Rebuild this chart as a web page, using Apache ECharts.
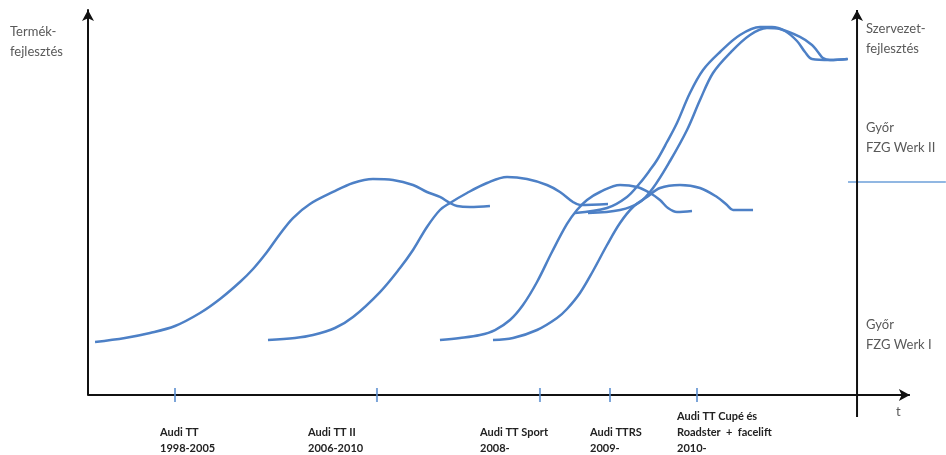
<!DOCTYPE html>
<html>
<head>
<meta charset="utf-8">
<script src="https://cdn.jsdelivr.net/npm/echarts@6/dist/echarts.min.js"></script>
<style>
html,body{margin:0;padding:0;background:#fff;}
#chart{width:946px;height:455px;}
</style>
</head>
<body>
<div id="chart"></div>
<script>
// Abstract units: x = time (0..~100), y = development level (0..100)
var curveAudiTT = [[0.86,13.77],[4.53,14.81],[7.59,16.10],[10.65,17.92],[13.71,21.30],[16.16,24.94],[18.60,29.35],[20.20,32.73],[21.91,37.14],[23.50,41.82],[25.09,45.97],[27.17,49.61],[29.99,52.73],[32.44,55.06],[34.88,56.10],[37.33,55.84],[39.78,54.55],[41.49,52.73],[43.08,51.43],[44.31,49.87],[45.17,49.09],[46.76,48.83],[49.20,49.09]];
var curveAudiTT2 = [[22.03,14.29],[25.34,14.81],[27.54,15.58],[30.23,17.40],[32.44,20.26],[35.74,26.75],[38.19,32.99],[39.78,37.66],[41.49,43.64],[43.08,48.05],[44.31,49.87],[46.39,52.47],[48.84,55.06],[51.29,56.62],[53.73,56.10],[56.18,54.55],[57.77,52.73],[59.36,50.13],[60.22,49.35],[63.65,49.61]];
var curveSport = [[43.08,14.29],[45.53,14.81],[47.98,15.58],[49.82,16.88],[51.65,19.48],[53.24,23.38],[54.96,29.35],[56.79,37.14],[58.63,44.42],[59.85,48.05],[61.08,50.65],[62.67,52.73],[65.12,54.55],[67.20,54.03],[68.79,52.47],[70.01,50.65],[70.99,48.57],[72.09,47.53],[73.93,47.79]];
var curveTTRS = [[49.57,14.29],[52.02,14.81],[54.96,16.88],[57.41,20.00],[58.63,22.34],[60.22,26.49],[61.81,32.21],[63.53,38.96],[65.12,44.68],[66.71,48.83],[68.42,51.43],[70.01,53.77],[72.46,54.55],[74.91,53.77],[76.99,51.43],[78.21,49.35],[78.95,48.05],[81.40,48.05]];
var curveCupeA = [[59.61,47.27],[63.53,48.57],[65.97,51.43],[67.56,55.06],[68.79,58.44],[69.65,61.04],[70.87,65.71],[72.09,70.65],[73.68,78.44],[75.28,84.42],[77.36,89.09],[79.80,93.51],[82.26,95.58],[83.72,95.58],[85.31,94.55],[86.78,91.95],[87.76,89.09],[88.62,87.27],[90.82,87.01],[92.90,87.27]];
var curveCupeB = [[61.20,47.27],[65.12,48.05],[67.56,50.13],[69.16,53.77],[71.24,60.78],[73.32,68.83],[74.91,76.62],[76.50,83.64],[78.58,88.83],[81.03,93.51],[83.11,95.32],[84.70,95.06],[87.15,92.99],[88.62,90.91],[89.35,89.09],[89.96,87.53],[90.82,87.01],[93.02,87.27]];
var werkBoundary = [[93.02,55.32],[105.0,55.32]];
var tickTimes = [10.65, 35.37, 55.32, 63.89, 74.54];
var tickLabels = ['Audi TT\n1998-2005','Audi TT II\n2006-2010','Audi TT Sport\n2008-','Audi TTRS\n2009-','Audi TT Cupé és\nRoadster  +  facelift\n2010-'];
var timeAxisEnd = 100.6;
var rightAxisX = 94.13;
var rightAxisRange = [-5.71, 100];

var blue = '#4d80c6';
function curve(name, data){
  return {type:'line', name:name, data:data, smooth:0.35, symbol:'none', clip:false,
    lineStyle:{color:blue, width:2.5}, silent:true, z:3};
}
function arrowLine(from, to, rot){
  return {type:'line', clip:false, silent:true, z:4, showSymbol:true,
    data:[{value:from, symbol:'none'}, {value:to, symbol:'arrow', symbolSize:[9,11], symbolRotate:rot}],
    lineStyle:{color:'#111', width:2}, itemStyle:{color:'#111'}};
}
var font = 'Lato, "Open Sans", sans-serif';
function txt(x,y,text,opts){
  opts = opts||{};
  return {type:'text', left:x, top:y, silent:true,
    style:{text:text, font:(opts.bold?'bold ':'')+(opts.size||13)+'px '+font,
      fill:opts.color||'#595959', lineHeight:opts.lh||20}};
}

var chart = echarts.init(document.getElementById('chart'), null, {renderer:'canvas'});
chart.setOption({
  animation:false,
  grid:{left:88, right:0, top:10, bottom:60},
  xAxis:{type:'value', min:0, max:105.02,
    axisLine:{show:false}, axisTick:{show:false}, axisLabel:{show:false}, splitLine:{show:false}},
  yAxis:{type:'value', min:0, max:100,
    axisLine:{show:true, onZero:false, symbol:['none','arrow'], symbolSize:[9,11], lineStyle:{color:'#111', width:2}},
    axisTick:{show:false}, axisLabel:{show:false}, splitLine:{show:false}},
  series:[
    curve('Audi TT', curveAudiTT),
    curve('Audi TT II', curveAudiTT2),
    curve('Audi TT Sport', curveSport),
    curve('Audi TTRS', curveTTRS),
    curve('Audi TT Cupé A', curveCupeA),
    curve('Audi TT Cupé B', curveCupeB),
    {type:'line', data:werkBoundary, symbol:'none', clip:false, silent:true,
      lineStyle:{color:'#6d9fd8', width:1.5}},
    arrowLine([0,0],[timeAxisEnd,0],-90),
    arrowLine([rightAxisX,rightAxisRange[0]],[rightAxisX,rightAxisRange[1]],0),
    {type:'scatter', data:tickTimes.map(function(t){return [t,0];}), clip:false, silent:true,
      symbol:'rect', symbolSize:[2,14], itemStyle:{color:'#5b8fd0'}, z:5}
  ],
  graphic:[
    txt(10,22,'Termék-\nfejlesztés'),
    txt(866,19,'Szervezet-\nfejlesztés'),
    txt(866,118,'Győr\nFZG Werk II'),
    txt(866,315,'Győr\nFZG Werk I'),
    txt(896,402,'t'),
    txt(160,424,tickLabels[0],{bold:true,size:11,color:'#222',lh:16}),
    txt(308,424,tickLabels[1],{bold:true,size:11,color:'#222',lh:16}),
    txt(480,424,tickLabels[2],{bold:true,size:11,color:'#222',lh:16}),
    txt(590,424,tickLabels[3],{bold:true,size:11,color:'#222',lh:16}),
    txt(677,408,tickLabels[4],{bold:true,size:11,color:'#222',lh:16})
  ]
});
</script>
</body>
</html>
